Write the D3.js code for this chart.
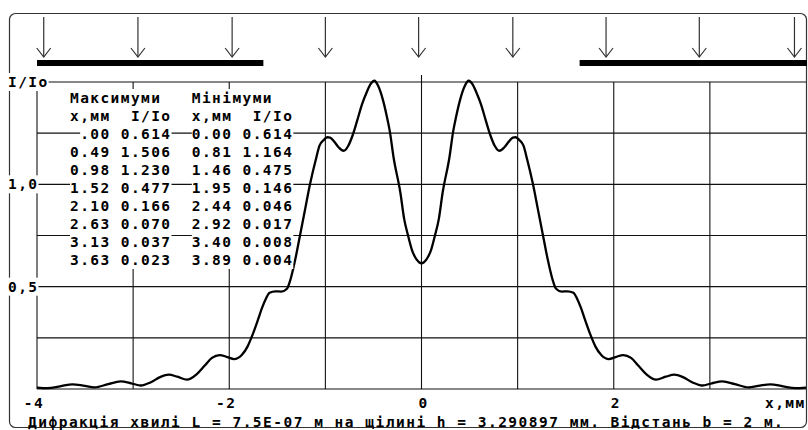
<!DOCTYPE html>
<meta charset="utf-8">
<script src="https://cdn.jsdelivr.net/npm/d3@7"></script>
<style>
  body { margin: 0; background: #fff; }
  text { font-family: "DejaVu Sans Mono", monospace; font-weight: bold; font-size: 14.5px; fill: #000; white-space: pre; }
</style>
<div id="chart"></div>
<script>

// intensity curve I/Io (x in mm)
var curveX = [-4.00,-3.89,-3.76,-3.63,-3.52,-3.40,-3.26,-3.13,-3.02,-2.92,-2.82,-2.72,-2.63,-2.54,-2.44,
  -2.34,-2.26,-2.18,-2.10,-2.02,-1.95,-1.87,-1.81,-1.76,-1.70,-1.66,-1.62,-1.58,-1.52,-1.46,-1.40,-1.36,
  -1.31,-1.26,-1.21,-1.16,-1.10,-1.06,-1.02,-0.98,-0.95,-0.91,-0.86,-0.81,-0.76,-0.72,-0.67,-0.62,-0.57,
  -0.53,-0.49,-0.45,-0.40,-0.36,-0.33,-0.29,-0.22,-0.18,-0.14,-0.10,-0.05,0.00,
  0.05,0.10,0.14,0.18,0.22,0.29,0.33,0.36,0.40,0.45,0.49,0.53,0.57,0.62,0.67,0.72,0.76,0.81,0.86,0.91,
  0.95,0.98,1.02,1.06,1.10,1.16,1.21,1.26,1.31,1.36,1.40,1.46,1.52,1.58,1.62,1.66,1.70,1.76,1.81,1.87,
  1.95,2.02,2.10,2.18,2.26,2.34,2.44,2.54,2.63,2.72,2.82,2.92,3.02,3.13,3.26,3.40,3.52,3.63,3.76,3.89,4.00];
var curveI = [0.007,0.004,0.013,0.023,0.017,0.008,0.024,0.037,0.028,0.017,0.032,0.058,0.070,0.060,0.046,
  0.072,0.112,0.152,0.166,0.156,0.146,0.166,0.207,0.262,0.340,0.395,0.440,0.470,0.477,0.476,0.490,0.540,
  0.640,0.760,0.880,1.000,1.120,1.190,1.215,1.230,1.228,1.210,1.180,1.164,1.190,1.235,1.310,1.390,1.450,
  1.490,1.506,1.480,1.410,1.330,1.260,1.130,0.960,0.830,0.750,0.680,0.632,0.614,
  0.632,0.680,0.750,0.830,0.960,1.130,1.260,1.330,1.410,1.480,1.506,1.490,1.450,1.390,1.310,1.235,1.190,
  1.164,1.180,1.210,1.228,1.230,1.215,1.190,1.120,1.000,0.880,0.760,0.640,0.540,0.490,0.476,0.477,0.470,
  0.440,0.395,0.340,0.262,0.207,0.166,0.146,0.156,0.166,0.152,0.112,0.072,0.046,0.060,0.070,0.058,0.032,
  0.017,0.028,0.037,0.024,0.008,0.017,0.023,0.013,0.004,0.007];

// incoming light arrows (mm) and slit half width (mm)
var arrowX = [-3.93, -2.95, -1.97, -1.00, -0.03, 0.95, 1.92, 2.89, 3.88];
var slitHalf = 1.645;

var xGrid = [-3, -2, -1, 0, 1, 2, 3];
var xTicks = [-4, -2, 0, 2];
var xTickLabels = ["-4", "-2", "0", "2"];
var yGrid = [0, 0.25, 0.5, 0.75, 1.0, 1.25, 1.5];
var yLabelVals = [1.5, 1.0, 0.5];
var yLabelText = ["I/Io", "1,0", "0,5"];

// table of extrema
var maxX = [".00", "0.49", "0.98", "1.52", "2.10", "2.63", "3.13", "3.63"];
var maxI = ["0.614", "1.506", "1.230", "0.477", "0.166", "0.070", "0.037", "0.023"];
var minX = ["0.00", "0.81", "1.46", "1.95", "2.44", "2.92", "3.40", "3.89"];
var minI = ["0.614", "1.164", "0.475", "0.146", "0.046", "0.017", "0.008", "0.004"];

var caption = "Дифракція хвилі L = 7.5E-07 м на щілині h = 3.290897 мм. Відстань b = 2 м.";

var W = 808, H = 430;
var fs = 14.5;
var charW = 10.15;
function spacing(cw) { return (cw - 0.602 * fs) + "px"; }
var ls = spacing(charW);

var x = d3.scaleLinear().domain([-4, 4]).range([37, 806]);
var y = d3.scaleLinear().domain([0, 1.5]).range([389, 82]);

var svg = d3.select("#chart").append("svg")
    .attr("width", W)
    .attr("height", H);

// frame
svg.append("rect")
    .attr("x", 9.5).attr("y", 13.5)
    .attr("width", 797).attr("height", 414)
    .attr("rx", 6)
    .attr("fill", "none")
    .attr("stroke", "#333")
    .attr("stroke-width", 1.2);

// arrows
var arr = svg.append("g").attr("stroke", "#333").attr("stroke-width", 1.2).attr("fill", "none");
arrowX.forEach(function(a) {
  var ax = x(a);
  arr.append("line").attr("x1", ax).attr("x2", ax).attr("y1", 17).attr("y2", 57);
  arr.append("path").attr("d", "M" + (ax - 7) + ",48 L" + ax + ",57 L" + (ax + 7) + ",48");
});

// screen bars outside the slit
svg.append("rect")
    .attr("x", x(-4)).attr("y", 60)
    .attr("width", x(-slitHalf) - x(-4)).attr("height", 6)
    .attr("fill", "#000");
svg.append("rect")
    .attr("x", x(slitHalf)).attr("y", 60)
    .attr("width", 807 - x(slitHalf)).attr("height", 6)
    .attr("fill", "#000");

// GRID
var grid = svg.append("g").attr("stroke", "#111").attr("stroke-width", 1.1);
yGrid.forEach(function(v) {
  var labeled = yLabelVals.indexOf(v) >= 0;
  grid.append("line")
      .attr("x1", labeled ? 9 : x(-4)).attr("x2", x(4))
      .attr("y1", y(v)).attr("y2", y(v));
});
xGrid.forEach(function(v) {
  grid.append("line")
      .attr("x1", x(v)).attr("x2", x(v))
      .attr("y1", v === 0 ? 75 : y(1.5)).attr("y2", y(0));
});
grid.append("line")
    .attr("x1", x(-4)).attr("x2", x(-4))
    .attr("y1", y(1.5)).attr("y2", y(0));

// curve
var line = d3.line()
    .x(function(d) { return x(d[0]); })
    .y(function(d) { return y(d[1]); })
    .curve(d3.curveMonotoneX);
svg.append("path")
    .datum(curveX.map(function(v, i) { return [v, curveI[i]]; }))
    .attr("d", line)
    .attr("fill", "none")
    .attr("stroke", "#000")
    .attr("stroke-width", 2.3)
    .attr("stroke-linejoin", "round");

// text with white background
function label(str, tx, base) {
  svg.append("rect")
      .attr("x", tx).attr("y", base - 14)
      .attr("width", str.length * charW).attr("height", 18)
      .attr("fill", "#fff");
  svg.append("text")
      .attr("x", tx).attr("y", base)
      .style("letter-spacing", ls)
      .text(str);
}

// Y labels
yLabelVals.forEach(function(v, i) {
  label(yLabelText[i], 8, y(v) + 5);
});

// table
var col0 = 70, base0 = 103, rowH = 18;
function cell(str, col, row) {
  var lead = str.length - str.replace(/^ +/, "").length;
  label(str.trim(), col0 + (col + lead) * charW, base0 + row * rowH);
}
cell("Максимуми", 0, 0);
cell("Мінімуми", 12, 0);
cell("x,мм  I/Io", 0, 1);
cell("x,мм  I/Io", 12, 1);
maxX.forEach(function(v, i) {
  cell(v.padStart(4, " ") + " " + maxI[i], 0, i + 2);
  cell(minX[i].padStart(4, " ") + " " + minI[i], 12, i + 2);
});

// X tick labels
xTicks.forEach(function(t, i) {
  var s = xTickLabels[i];
  svg.append("text")
      .attr("x", x(t) - (s.length - 0.5) * charW + 2)
      .attr("y", 408)
      .style("letter-spacing", ls)
      .text(s);
});
svg.append("text")
    .attr("x", 765).attr("y", 408)
    .style("letter-spacing", ls)
    .text("x,мм");

// caption
svg.append("text")
    .attr("x", 28).attr("y", 427)
    .style("letter-spacing", spacing(10.22))
    .text(caption);

</script>
